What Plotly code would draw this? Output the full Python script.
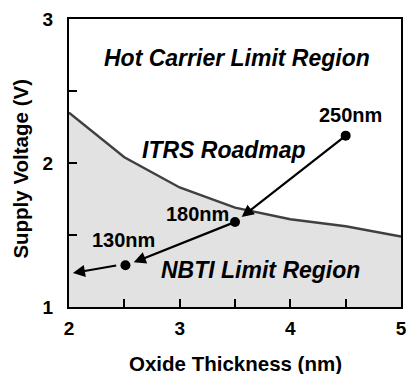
import plotly.graph_objects as go

# Data
roadmap_x = [2.0, 2.5, 3.0, 3.5, 4.0, 4.5, 5.0]
roadmap_v = [2.35, 2.04, 1.83, 1.69, 1.61, 1.56, 1.49]
node_labels = ["250nm", "180nm", "130nm"]
node_x = [4.5, 3.5, 2.51]
node_v = [2.19, 1.59, 1.29]
x_ticks = [2, 3, 4, 5]
y_ticks = [1, 2, 3]

FONT = "Liberation Sans, Arial, Helvetica, sans-serif"

fig = go.Figure()
fig.add_trace(go.Scatter(x=roadmap_x, y=roadmap_v, mode="lines", fill="tozeroy",
                         fillcolor="#e2e2e2", line=dict(color="#404040", width=2.5),
                         hoverinfo="skip"))
fig.add_trace(go.Scatter(x=node_x, y=node_v, mode="markers",
                         marker=dict(color="black", size=10), hoverinfo="skip"))

anns = []
# arrows between nodes
arrows = [
    ((node_x[0], node_v[0]), (3.56, 1.625)),
    ((node_x[1], node_v[1]), (2.585, 1.31)),
    ((2.44, 1.29), (2.035, 1.236)),
]
for (tx, ty), (hx, hy) in arrows:
    anns.append(dict(x=hx, y=hy, ax=tx, ay=ty, xref="x", yref="y", axref="x", ayref="y",
                     showarrow=True, arrowhead=2, arrowsize=1.1, arrowwidth=2.2,
                     arrowcolor="black", text=""))

# node labels
lab_pos = [(4.54, 2.33), (3.16, 1.645), (2.49, 1.465)]
for t, (lx, ly) in zip(node_labels, lab_pos):
    anns.append(dict(x=lx, y=ly, xref="x", yref="y", text="<b>%s</b>" % t, showarrow=False,
                     font=dict(family=FONT, size=20, color="black")))

# region labels
regions = [("Hot Carrier Limit Region", 3.52, 2.73), ("ITRS Roadmap", 3.40, 2.09),
           ("NBTI Limit Region", 3.73, 1.26)]
for t, rx, ry in regions:
    anns.append(dict(x=rx, y=ry, xref="x", yref="y", text="<b><i>%s</i></b>" % t, showarrow=False,
                     font=dict(family=FONT, size=23, color="black")))

# axis titles
anns.append(dict(x=0.5, y=-0.195, xref="paper", yref="paper", xanchor="center", yanchor="middle",
                 text="<b>Oxide Thickness (nm)</b>", showarrow=False,
                 font=dict(family=FONT, size=20.5, color="black")))
anns.append(dict(x=-0.145, y=0.48, xref="paper", yref="paper", xanchor="center", yanchor="middle",
                 text="<b>Supply Voltage (V)</b>", textangle=-90, showarrow=False,
                 font=dict(family=FONT, size=20.5, color="black")))

axis_common = dict(showgrid=False, zeroline=False, showline=True, mirror=True,
                   linecolor="black", linewidth=2.2, ticks="inside", ticklen=8,
                   tickwidth=1.5, tickcolor="black", ticklabeloverflow="allow",
                   tickfont=dict(family=FONT, size=19, color="black"),
                   minor=dict(dtick=0.5, ticks="inside", ticklen=8, tickwidth=1.5, tickcolor="black"))

fig.update_layout(
    width=409, height=374,
    margin=dict(l=69, r=2, t=19, b=67),
    plot_bgcolor="white", paper_bgcolor="white",
    showlegend=False,
    xaxis=dict(range=[2, 5], tickvals=x_ticks, ticktext=["<b>%d</b>" % v for v in x_ticks],
               ticklabelstandoff=3, **axis_common),
    yaxis=dict(range=[1, 3], tickvals=y_ticks, ticktext=["<b>%d</b>" % v for v in y_ticks],
               ticklabelstandoff=10, **axis_common),
    annotations=anns,
)

fig.write_html("out.html")
